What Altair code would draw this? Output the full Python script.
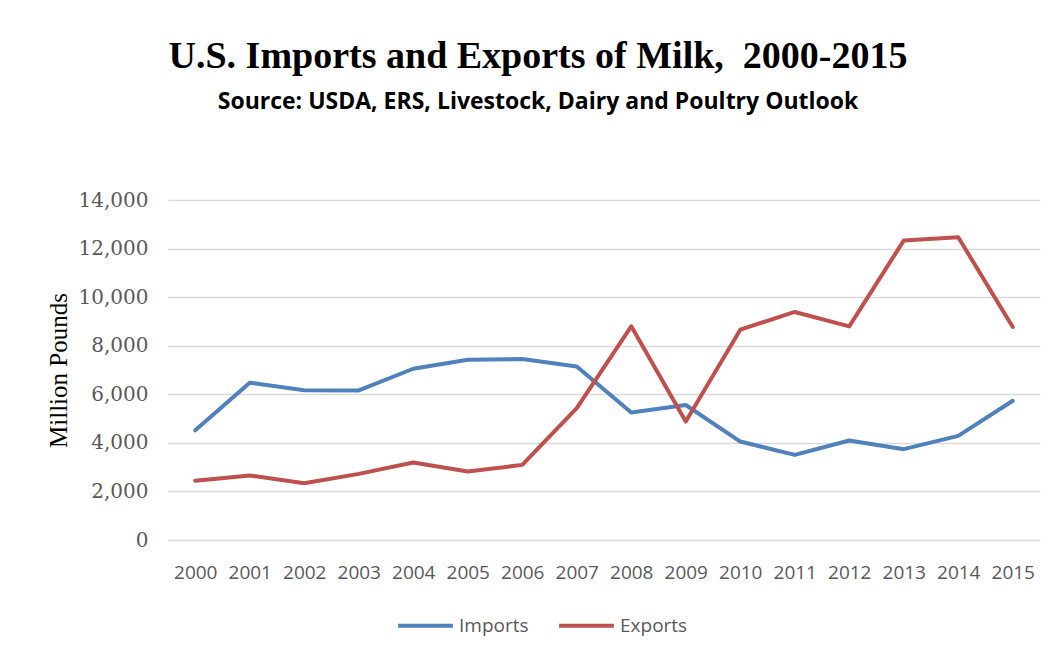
import altair as alt
import pandas as pd

years = [str(y) for y in range(2000, 2016)]
imports = [4516, 6475, 6170, 6157, 7052, 7423, 7450, 7147, 5250, 5560, 4054, 3505, 4096, 3740, 4289, 5732]
exports = [2438, 2657, 2340, 2722, 3188, 2817, 3093, 5430, 8797, 4878, 8660, 9390, 8797, 12330, 12467, 8770]
series = ["Imports", "Exports"]
colors = ["#4F81BD", "#C0504D"]

rows = []
for name, vals in zip(series, [imports, exports]):
    for y, v in zip(years, vals):
        rows.append({"Year": y, "Value": v, "Series": name})
df = pd.DataFrame(rows)

chart = alt.Chart(df).mark_line(strokeWidth=4, strokeCap="round", strokeJoin="round").encode(
    x=alt.X("Year:O", sort=years, title=None,
            axis=alt.Axis(labelAngle=0, labelFont="Open Sans", labelFontSize=19,
                          labelColor="#595959", labelPadding=23, ticks=False, domain=False,
                          grid=False)),
    y=alt.Y("Value:Q", scale=alt.Scale(domain=[0, 14000]), title="Million Pounds",
            axis=alt.Axis(values=[0, 2000, 4000, 6000, 8000, 10000, 12000, 14000], format=",d",
                          labelFont="DejaVu Serif", labelFontSize=20, labelColor="#595959",
                          labelPadding=20, ticks=False, domain=False,
                          gridColor="#D9D9D9", gridWidth=1.5,
                          titleFont="Liberation Serif", titleFontSize=25, titleFontWeight="normal",
                          titleColor="black", titlePadding=7)),
    color=alt.Color("Series:N", scale=alt.Scale(domain=series, range=colors),
                    legend=alt.Legend(title=None, orient="none", legendX=228, legendY=396,
                                      direction="horizontal", symbolType="stroke",
                                      symbolSize=3000, symbolStrokeWidth=4,
                                      labelFont="Open Sans", labelFontSize=19,
                                      labelColor="#595959", labelOffset=4, columnPadding=22)),
).properties(
    width=872,
    height=340,
    background="white",
    title=alt.TitleParams(
        text="U.S. Imports and Exports of Milk,\u00a0 2000-2015",
        subtitle="Source: USDA, ERS, Livestock, Dairy and Poultry Outlook",
        font="Liberation Serif", fontSize=38, fontWeight="bold", color="black",
        subtitleFont="Open Sans", subtitleFontSize=23, subtitleFontWeight="bold",
        subtitleColor="black", subtitlePadding=15,
        anchor="middle", dx=-66, offset=76,
    ),
    autosize=alt.AutoSizeParams(type="none"),
    padding={"left": 168, "top": 200, "right": 16, "bottom": 116},
).configure_view(strokeWidth=0, stroke=None)

chart.save("out.html", embed_options={"renderer": "svg", "actions": False})
